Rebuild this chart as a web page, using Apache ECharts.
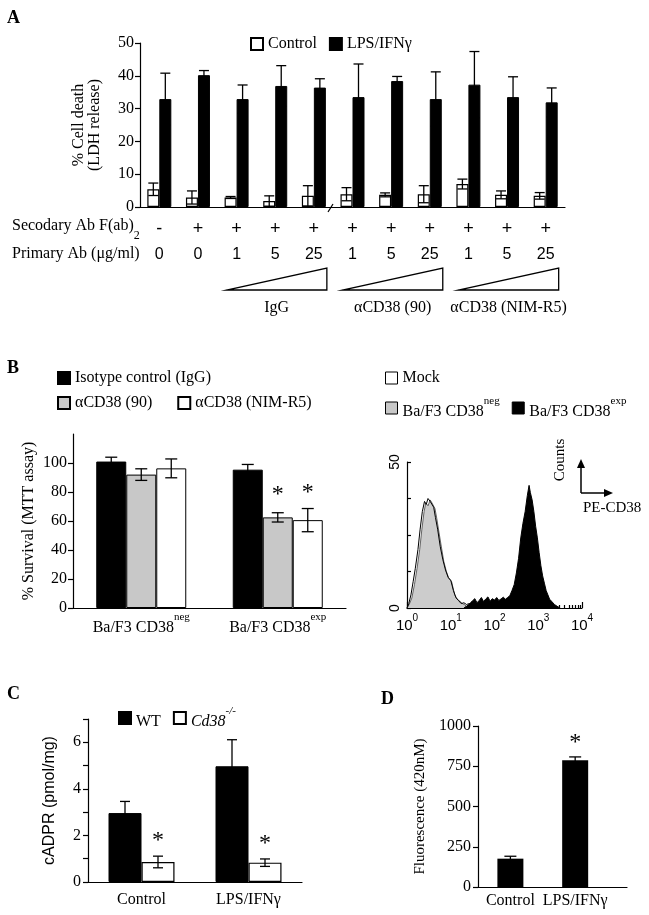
<!DOCTYPE html>
<html><head><meta charset="utf-8">
<script src="https://cdn.jsdelivr.net/npm/echarts@6/dist/echarts.min.js"></script>
<style>html,body{margin:0;padding:0;background:#fff}#c{width:649px;height:915px}</style>
</head><body><div id="c"></div>
<script>
// ---------- Panel A ----------
const secondaryAb = ['-','+','+','+','+','+','+','+','+','+','+'];
const primaryAb = ['0','0','1','5','25','1','5','25','1','5','25'];
const antibodyGroups = ['IgG','αCD38 (90)','αCD38 (NIM-R5)'];
const antibodyGroupRanges = [[2,4],[5,7],[8,10]];
const controlA = [5.4, 2.9, 2.9, 1.8, 3.4, 3.9, 3.7, 3.9, 7.0, 3.7, 3.4];
const controlAErr = [1.9, 2.0, 0.3, 1.6, 3.1, 2.0, 0.6, 2.6, 1.5, 1.2, 1.0];
const lpsA = [32.9, 40.2, 32.9, 36.9, 36.4, 33.5, 38.4, 32.9, 37.3, 33.5, 31.9];
const lpsAErr = [7.9, 1.4, 4.3, 6.2, 2.7, 10.1, 1.4, 8.3, 10.1, 6.2, 4.4];

// ---------- Panel B (left) ----------
const bCats = ['Ba/F3 CD38neg','Ba/F3 CD38exp'];
const iggB = [101, 95.4];
const iggBErr = [3, 3.6];
const cd90B = [92, 62.5];
const cd90BErr = [4, 3.2];
const nimB = [96.3, 60.6];
const nimBErr = [6.5, 8];
const cd90BStar = [0, 1];
const nimBStar = [0, 1];
const bTicks = [0,20,40,60,80,100];

// ---------- Panel B (right, histogram; x = log10 PE-CD38) ----------
const histNegLog = [0.00,0.05,0.11,0.17,0.23,0.29,0.34,0.39,0.43,0.48,0.53,0.57,0.60,0.64,0.68,0.73,0.79,0.84,0.90,0.96,1.02,1.09,1.15,1.21,1.27,1.32,1.39];
const histNegCounts = [0,1.2,3.4,8,13.6,20,27,33,36,35,37,36,36.4,34,30.7,26,20.5,16,12.5,10,9,4.5,3,2.3,1.5,1.1,0];
const histMockLog = [0.00,0.04,0.09,0.14,0.19,0.25,0.30,0.35,0.40,0.44,0.48,0.53,0.57,0.61,0.65,0.70,0.76,0.82,0.88,0.94,1.00,1.06,1.12,1.18,1.24,1.30,1.36,1.42,1.48,1.54];
const histMockCounts = [0,1.5,4.5,9,13.6,20,27,33,36.5,35.5,37.5,36.5,36.8,34.5,31,27,21,16.5,13,10.5,9.5,6,3.5,2.5,1.5,1.8,1.2,1.5,0.8,0];
const histExpLog = [1.30,1.35,1.40,1.45,1.50,1.55,1.60,1.65,1.70,1.75,1.80,1.85,1.90,1.95,2.00,2.05,2.10,2.15,2.20,2.25,2.30,2.35,2.40,2.45,2.50,2.55,2.60,2.65,2.70,2.75,2.79,2.82,2.86,2.90,2.94,2.98,3.02,3.06,3.10,3.14,3.18,3.22,3.26,3.31,3.37,3.43,3.50];
const histExpCounts = [0,0.5,1,1.8,2.5,3.2,1.8,2.6,3.6,2.2,3.1,3.8,2.3,3.2,2.7,3.6,2.6,3.1,3.7,3.0,3.6,4.2,6,8,12,17,24,29,33,38.5,42,39.5,37,33,28,24,19,14.5,11,8.5,6,4.5,3,2.2,1.2,0.6,0];
const histYTicks = [0,50];

// ---------- Panel C ----------
const cCats = ['Control','LPS/IFNγ'];
const wtC = [2.96, 4.97];
const wtCErr = [0.5, 1.14];
const koC = [0.86, 0.83];
const koCErr = [0.25, 0.16];
const koCStar = [1, 1];
const cTicks = [0,2,4,6];

// ---------- Panel D ----------
const dCats = ['Control','LPS/IFNγ'];
const fluoD = [176, 788];
const fluoDErr = [15, 20];
const fluoDStar = [0, 1];

// ---------- styles ----------
const serif = '"Liberation Serif","Times New Roman",serif';
const sans = '"Liberation Sans",Arial,sans-serif';
const BL = {color:'#000', width:1.2};
const richSup = {
  b:{fontFamily:serif,fontSize:16,color:'#000',verticalAlign:'bottom',lineHeight:24},
  s:{fontFamily:serif,fontSize:11,color:'#000',verticalAlign:'top',lineHeight:10},
  i:{fontFamily:serif,fontSize:16,color:'#000',fontStyle:'italic',verticalAlign:'bottom',lineHeight:24},
  si:{fontFamily:serif,fontSize:11,color:'#000',fontStyle:'italic',verticalAlign:'top',lineHeight:10}
};
function supName(n){
  if (n.endsWith('neg')) return '{b|' + n.slice(0,-3) + '}{s|neg}';
  if (n.endsWith('exp')) return '{b|' + n.slice(0,-3) + '}{s|exp}';
  if (n === 'Cd38-/-') return '{i|Cd38}{si|-/-}';
  return '{b|' + n + '}';
}

function errRender(offset, capHalf, starGap){
  return function(params, api){
    const x = api.value(0), v = api.value(1), e = api.value(2), s = api.value(3);
    const top = api.coord([x, v + e]);
    const bot = api.coord([x, v - e]);
    const cx = top[0] + offset;
    const st = {stroke:'#000', lineWidth:1.3};
    const ch = [
      {type:'line', shape:{x1:cx,y1:top[1],x2:cx,y2:bot[1]}, style:st},
      {type:'line', shape:{x1:cx-capHalf,y1:top[1],x2:cx+capHalf,y2:top[1]}, style:st},
      {type:'line', shape:{x1:cx-capHalf,y1:bot[1],x2:cx+capHalf,y2:bot[1]}, style:st}
    ];
    if (s) ch.push({type:'text', style:{text:'*', x:cx, y:top[1]-starGap, align:'center', verticalAlign:'middle', font:'24px ' + serif, fill:'#000'}});
    return {type:'group', children:ch};
  };
}
function errSeries(name, xi, yi, vals, errs, stars, offset, capHalf, starGap, xPos){
  return {
    type:'custom', name:name, xAxisIndex:xi, yAxisIndex:yi, clip:false, z:5,
    renderItem: errRender(offset, capHalf, starGap),
    encode:{x:0, y:1},
    data: vals.map((v,i)=>[xPos ? xPos(i) : i, v, errs[i], stars ? stars[i] : 0])
  };
}
function wedgeRender(params, api){
  const g = api.value(0), a = api.value(1), b = api.value(2);
  const L = api.coord([a, 0]), R = api.coord([b, 0]);
  const xl = L[0] - 10, xr = R[0] + 13, yb = L[1] + 83, yt = L[1] + 61;
  return {type:'group', children:[
    {type:'polygon', shape:{points:[[xl,yb],[xr,yb],[xr,yt]]}, style:{fill:'#fff', stroke:'#000', lineWidth:1.3}},
    {type:'text', style:{text:antibodyGroups[g], x:(xl+xr)/2, y:yb+18, align:'center', verticalAlign:'middle', font:'16px ' + serif, fill:'#000'}}
  ]};
}

const histMinorTicks = [];
for (let d = 0; d < 4; d++) for (let k = 2; k <= 9; k++) histMinorTicks.push(d + Math.log10(k));

const catLabel = (size, fam, margin) => ({color:'#000', fontFamily:fam, fontSize:size, margin:margin, interval:0});

const option = {
  animation:false,
  backgroundColor:'#fff',
  grid:[
    {left:140, top:43, width:425, height:164},
    {left:73, top:434, width:273, height:174},
    {left:407, top:462, width:175, height:146},
    {left:88, top:719, width:214, height:163},
    {left:478, top:726, width:149, height:161}
  ],
  xAxis:[
    {gridIndex:0, type:'category', data:secondaryAb, position:'bottom', axisLine:{lineStyle:BL}, axisTick:{length:5, lineStyle:BL}, axisLabel:catLabel(18, sans, 13)},
    {gridIndex:0, type:'category', data:primaryAb, position:'bottom', axisLine:{show:false}, axisTick:{show:false}, axisLabel:catLabel(16, sans, 40)},
    {gridIndex:1, type:'category', data:bCats, axisLine:{lineStyle:BL}, axisTick:{length:5, lineStyle:BL},
      axisLabel:{interval:0, margin:4, formatter:supName, rich:richSup}},
    {gridIndex:2, type:'value', position:'bottom', min:0, max:4, interval:1, splitLine:{show:false}, axisLine:{lineStyle:BL}, axisTick:{inside:true, length:6, lineStyle:BL},
      axisLabel:{margin:5, formatter:v=>'{h|10}{hs|' + v + '}', rich:{h:{fontFamily:sans,fontSize:15,color:'#000',verticalAlign:'bottom',lineHeight:20}, hs:{fontFamily:sans,fontSize:10,color:'#000',verticalAlign:'top',lineHeight:10}}}},
    {gridIndex:2, type:'value', position:'bottom', offset:0, min:0, max:4, splitLine:{show:false}, axisLine:{show:false}, axisLabel:{show:false}, axisTick:{inside:true, length:3, lineStyle:BL, customValues:histMinorTicks}},
    {gridIndex:3, type:'category', data:cCats, axisLine:{lineStyle:BL}, axisTick:{length:5, lineStyle:BL}, axisLabel:catLabel(16, serif, 10)},
    {gridIndex:4, type:'value', min:0, max:2.3, splitLine:{show:false}, axisLine:{lineStyle:BL}, axisTick:{show:false},
      axisLabel:{customValues:[0.5,1.5], formatter:v=>dCats[Math.round(v-0.5)], color:'#000', fontFamily:serif, fontSize:16, margin:6}}
  ],
  yAxis:[
    {gridIndex:0, type:'value', min:0, max:50, interval:10, splitLine:{show:false}, axisLine:{show:true, lineStyle:BL}, axisTick:{show:true, length:5, lineStyle:BL},
      axisLabel:{color:'#000', fontFamily:serif, fontSize:16, margin:6},
      name:'% Cell death\n(LDH release)', nameLocation:'middle', nameRotate:90, nameGap:37, nameTextStyle:{color:'#000', fontFamily:serif, fontSize:16, lineHeight:16}},
    {gridIndex:1, type:'value', min:0, max:120, interval:20, splitLine:{show:false}, axisLine:{show:true, lineStyle:BL}, axisTick:{show:true, length:5, lineStyle:BL, customValues:bTicks},
      axisLabel:{customValues:bTicks, color:'#000', fontFamily:serif, fontSize:16, margin:6},
      name:'% Survival (MTT assay)', nameLocation:'middle', nameRotate:90, nameGap:36, nameTextStyle:{color:'#000', fontFamily:serif, fontSize:16}},
    {gridIndex:2, type:'value', min:0, max:50, interval:12.5, splitLine:{show:false}, axisLine:{show:true, lineStyle:BL}, axisTick:{show:true, inside:true, length:4, lineStyle:BL},
      axisLabel:{customValues:histYTicks, rotate:90, color:'#000', fontFamily:sans, fontSize:14, margin:5}},
    {gridIndex:3, type:'value', min:0, max:7, interval:1, splitLine:{show:false}, axisLine:{show:true, lineStyle:BL}, axisTick:{show:true, length:5, lineStyle:BL},
      axisLabel:{customValues:cTicks, color:'#000', fontFamily:serif, fontSize:16, margin:7},
      name:'cADPR (pmol/mg)', nameLocation:'middle', nameRotate:90, nameGap:30, nameTextStyle:{color:'#000', fontFamily:sans, fontSize:16}},
    {gridIndex:4, type:'value', min:0, max:1000, interval:250, splitLine:{show:false}, axisLine:{show:true, lineStyle:BL}, axisTick:{show:true, length:5, lineStyle:BL},
      axisLabel:{color:'#000', fontFamily:serif, fontSize:16, margin:7, formatter:v=>String(v)},
      name:'Fluorescence (420nM)', nameLocation:'middle', nameRotate:90, nameGap:50, nameTextStyle:{color:'#000', fontFamily:serif, fontSize:15}}
  ],
  legend:[
    {left:250, top:36, padding:0, itemWidth:12, itemHeight:12, itemGap:12, selectedMode:false, icon:'rect',
      textStyle:{color:'#000', fontFamily:serif, fontSize:16}, data:['Control','LPS/IFNγ']},
    {left:57, top:370, padding:0, itemWidth:12, itemHeight:12, selectedMode:false, icon:'rect',
      textStyle:{color:'#000', fontFamily:serif, fontSize:16}, data:['Isotype control (IgG)']},
    {left:57, top:395, padding:0, itemWidth:12, itemHeight:12, itemGap:25, selectedMode:false, icon:'rect',
      textStyle:{color:'#000', fontFamily:serif, fontSize:16}, data:['αCD38 (90)','αCD38 (NIM-R5)']},
    {left:385, top:370, padding:0, itemWidth:12, itemHeight:12, selectedMode:false, icon:'rect',
      textStyle:{color:'#000', fontFamily:serif, fontSize:16},
      data:[{name:'Mock', itemStyle:{color:'#fff', borderColor:'#000', borderWidth:1}}]},
    {left:385, top:396, padding:0, itemWidth:12, itemHeight:12, itemGap:12, selectedMode:false, icon:'rect',
      formatter:supName, textStyle:{rich:richSup},
      data:[{name:'Ba/F3 CD38neg', itemStyle:{color:'#c8c8c8', borderColor:'#000', borderWidth:1}},
            {name:'Ba/F3 CD38exp', itemStyle:{color:'#000', borderColor:'#000', borderWidth:1}}]},
    {left:118, top:706, padding:0, itemWidth:12, itemHeight:12, itemGap:12, selectedMode:false, icon:'rect',
      formatter:supName, textStyle:{rich:richSup}, data:['WT','Cd38-/-']}
  ],
  series:[
    // A
    {type:'bar', name:'Control', xAxisIndex:0, yAxisIndex:0, data:controlA, barWidth:12, barGap:'0%', itemStyle:{color:'#fff', borderColor:'#000', borderWidth:1.2}},
    {type:'bar', name:'LPS/IFNγ', xAxisIndex:0, yAxisIndex:0, data:lpsA, barWidth:12, barGap:'0%', itemStyle:{color:'#000', borderColor:'#000', borderWidth:1}},
    errSeries('errA1', 0, 0, controlA, controlAErr, null, -6, 5, 0),
    errSeries('errA2', 0, 0, lpsA, lpsAErr, null, 6, 5, 0),
    {type:'custom', name:'wedges', xAxisIndex:0, yAxisIndex:0, clip:false, renderItem:wedgeRender, encode:{x:1, y:0},
      data:antibodyGroupRanges.map((r,i)=>[i, r[0], r[1]])},
    // B left
    {type:'bar', name:'Isotype control (IgG)', xAxisIndex:2, yAxisIndex:1, data:iggB, barWidth:30, barGap:'0%', itemStyle:{color:'#000', borderColor:'#000', borderWidth:1}},
    {type:'bar', name:'αCD38 (90)', xAxisIndex:2, yAxisIndex:1, data:cd90B, barWidth:30, barGap:'0%', itemStyle:{color:'#c8c8c8', borderColor:'#000', borderWidth:1}},
    {type:'bar', name:'αCD38 (NIM-R5)', xAxisIndex:2, yAxisIndex:1, data:nimB, barWidth:30, barGap:'0%', itemStyle:{color:'#fff', borderColor:'#000', borderWidth:1}},
    errSeries('errB1', 2, 1, iggB, iggBErr, null, -30, 6, 0),
    errSeries('errB2', 2, 1, cd90B, cd90BErr, cd90BStar, 0, 6, 18),
    errSeries('errB3', 2, 1, nimB, nimBErr, nimBStar, 30, 6, 16),
    // B right histogram
    {type:'line', name:'Ba/F3 CD38neg', xAxisIndex:3, yAxisIndex:2, showSymbol:false, symbol:'none', z:2,
      lineStyle:{color:'#444', width:0.8}, itemStyle:{color:'#c8c8c8'}, areaStyle:{color:'#cccccc', opacity:1},
      data:histNegLog.map((x,i)=>[x, histNegCounts[i]])},
    {type:'line', name:'Mock', xAxisIndex:3, yAxisIndex:2, showSymbol:false, symbol:'none', z:3,
      lineStyle:{color:'#000', width:1}, itemStyle:{color:'#fff'},
      data:histMockLog.map((x,i)=>[x, histMockCounts[i]])},
    {type:'line', name:'Ba/F3 CD38exp', xAxisIndex:3, yAxisIndex:2, showSymbol:false, symbol:'none', z:4,
      lineStyle:{color:'#000', width:1}, itemStyle:{color:'#000'}, areaStyle:{color:'#000', opacity:1},
      data:histExpLog.map((x,i)=>[x, histExpCounts[i]])},
    // C
    {type:'bar', name:'WT', xAxisIndex:5, yAxisIndex:3, data:wtC, barWidth:33, barGap:'0%', itemStyle:{color:'#000', borderColor:'#000', borderWidth:1}},
    {type:'bar', name:'Cd38-/-', xAxisIndex:5, yAxisIndex:3, data:koC, barWidth:33, barGap:'0%', itemStyle:{color:'#fff', borderColor:'#000', borderWidth:1.2}},
    errSeries('errC1', 5, 3, wtC, wtCErr, null, -16.5, 5, 0),
    errSeries('errC2', 5, 3, koC, koCErr, koCStar, 16.5, 5, 15),
    // D
    {type:'bar', name:'Fluorescence', xAxisIndex:6, yAxisIndex:4, data:fluoD.map((v,i)=>[i+0.5, v]), barWidth:26, itemStyle:{color:'#000'}},
    errSeries('errD', 6, 4, fluoD, fluoDErr, fluoDStar, 0, 6, 14, i=>i+0.5)
  ],
  graphic:[
    {type:'text', left:7, top:9, style:{text:'A', font:'bold 18px ' + serif, fill:'#000'}},
    {type:'text', left:7, top:359, style:{text:'B', font:'bold 18px ' + serif, fill:'#000'}},
    {type:'text', left:7, top:685, style:{text:'C', font:'bold 18px ' + serif, fill:'#000'}},
    {type:'text', left:381, top:690, style:{text:'D', font:'bold 18px ' + serif, fill:'#000'}},
    {type:'text', x:12, y:230, style:{text:'{t|Secodary Ab F(ab)}{u|2}', verticalAlign:'middle',
      rich:{t:{fontFamily:serif,fontSize:16,color:'#000',verticalAlign:'top',lineHeight:24}, u:{fontFamily:serif,fontSize:12,color:'#000',verticalAlign:'bottom',lineHeight:12}}}},
    {type:'text', x:12, y:254, style:{text:'Primary Ab (μg/ml)', verticalAlign:'middle', font:'16px ' + serif, fill:'#000'}},
    {type:'line', shape:{x1:328, y1:212, x2:333, y2:204}, style:{stroke:'#000', lineWidth:1.2}},
    {type:'text', x:560, y:460, rotation:Math.PI/2, style:{text:'Counts', align:'center', verticalAlign:'middle', font:'15px ' + serif, fill:'#000'}},
    {type:'line', shape:{x1:581, y1:493, x2:581, y2:466}, style:{stroke:'#000', lineWidth:1.5}},
    {type:'polygon', shape:{points:[[577,468],[585,468],[581,459]]}, style:{fill:'#000'}},
    {type:'line', shape:{x1:581, y1:493, x2:606, y2:493}, style:{stroke:'#000', lineWidth:1.5}},
    {type:'polygon', shape:{points:[[604,489],[604,497],[613,493]]}, style:{fill:'#000'}},
    {type:'text', x:583, y:508, style:{text:'PE-CD38', verticalAlign:'middle', font:'15px ' + serif, fill:'#000'}}
  ]
};
const chart = echarts.init(document.getElementById('c'));
chart.setOption(option);
</script></body></html>
